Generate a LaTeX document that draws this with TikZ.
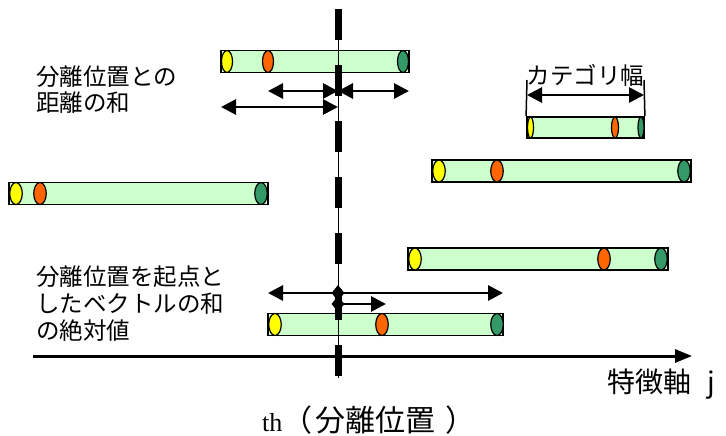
\documentclass[tikz,border=0pt]{standalone}
\usepackage{fontspec}
\setmainfont{Liberation Serif}
\newfontfamily\jp{Noto Sans CJK JP}
\usetikzlibrary{arrows.meta,shapes.geometric}
\definecolor{barfill}{HTML}{CCFFCC}
\definecolor{cyel}{HTML}{FFFF00}
\definecolor{cora}{HTML}{FF6600}
\definecolor{cgrn}{HTML}{339966}
\begin{document}
\begin{tikzpicture}[x=1pt,y=-1pt,
  bar/.style={draw=black,line width=1.8pt,fill=barfill,rectangle,inner sep=0pt,minimum height=22pt},
  dot/.style={draw=black,line width=1.2pt,ellipse,inner sep=0pt,minimum height=22pt,minimum width=12.5pt},
  ye/.style={dot,fill=cyel},
  oe/.style={dot,fill=cora},
  ge/.style={dot,fill=cgrn},
  darr/.style={line width=2.8pt,{Triangle[length=15pt,width=15pt]}-{Triangle[length=15pt,width=15pt]}},
  sarr/.style={line width=2.8pt,-{Triangle[length=15pt,width=15pt]}},
  lbl/.style={font=\jp\fontsize{23.5}{27}\selectfont,inner sep=0pt,anchor=west},
  big/.style={font=\jp\fontsize{28}{32}\selectfont,inner sep=0pt,anchor=west},
  dia/.style={diamond,fill=black,inner sep=0pt,minimum width=13pt,minimum height=16pt}
]
\useasboundingbox (0,0) rectangle (726,436);

% bars
\node[bar,minimum width=188pt] (b1) at (315,61.5) {};
\node[ye,minimum width=11pt] (b1y) at (227,61.5) {};
\node[oe,minimum width=11pt] (b1o) at (268,61.5) {};
\node[ge,minimum width=11pt] (b1g) at (403,61.5) {};

\node[bar,minimum width=117pt,minimum height=21pt] (b2) at (585.5,127.5) {};
\node[ye,minimum width=6pt,minimum height=21pt] (b2y) at (530.5,127.5) {};
\node[oe,minimum width=7pt,minimum height=21pt] (b2o) at (615,127.5) {};
\node[ge,minimum width=6pt,minimum height=21pt] (b2g) at (641,127.5) {};

\node[bar,minimum width=259pt] (b3) at (138.5,193.5) {};
\node[ye] (b3y) at (16,193.5) {};
\node[oe] (b3o) at (40,193.5) {};
\node[ge] (b3g) at (261,193.5) {};

\node[bar,minimum width=259pt] (b4) at (561.5,171) {};
\node[ye] (b4y) at (439,171) {};
\node[oe] (b4o) at (497,171) {};
\node[ge] (b4g) at (684,171) {};

\node[bar,minimum width=260pt] (b5) at (538,259) {};
\node[ye] (b5y) at (415,259) {};
\node[oe] (b5o) at (604,259) {};
\node[ge] (b5g) at (661,259) {};

\node[bar,minimum width=235pt] (b6) at (385.5,324.5) {};
\node[ye] (b6y) at (275,324.5) {};
\node[oe] (b6o) at (382,324.5) {};
\node[ge] (b6g) at (497,324.5) {};

% axis
\coordinate (ax0) at (33,356);
\coordinate (ax1) at (692,356);
\draw[line width=3pt,-{Triangle[length=17pt,width=13pt]}] (ax0) -- (ax1);

% separation line
\coordinate (th0) at (338,9);
\coordinate (th1) at (338,378);
\draw[line width=1pt] (th0) -- (th1);
\draw[line width=7pt,dash pattern=on 31pt off 25pt] (th0) -- (th1);

% distance arrows
\coordinate (m1) at (338,91);
\coordinate (l1) at (268,91);
\coordinate (r1) at (409,91);
\coordinate (m2) at (338,107);
\coordinate (l2) at (221,107);
\draw[darr] (l1) -- (m1);
\draw[darr] (m1) -- (r1);
\draw[darr] (l2) -- (m2);

% vector arrows
\coordinate (c1) at (338,293);
\coordinate (cl) at (268,293);
\coordinate (cr) at (503,293);
\coordinate (c2) at (338,304);
\coordinate (c2r) at (386,304);
\draw[sarr] (c1) -- (cl);
\draw[sarr] (c1) -- (cr);
\draw[sarr] (c2) -- (c2r);
\node[dia] (d1) at (c1) {};
\node[dia] (d2) at (c2) {};

% category width
\coordinate (k0) at (527,80);
\coordinate (k1) at (644,80);
\draw[line width=1.5pt] (k0) -- (b2.north west);
\draw[line width=1.5pt] (k1) -- (b2.north east);
\coordinate (ka) at (527,95);
\coordinate (kb) at (644,95);
\draw[darr] (ka) -- (kb);

% labels
\node[lbl] (t1) at (36,77) {分離位置との};
\node[lbl] (t2) at (36,103) {距離の和};
\node[font=\jp\fontsize{23.5}{27}\selectfont,inner sep=0pt] (t3) at (585.5,75) {カテゴリ幅};
\node[lbl] (t4) at (36,277) {分離位置を起点と};
\node[lbl] (t5) at (36,304) {したベクトルの和};
\node[lbl] (t6) at (36,331) {の絶対値};
\node[big] (t7) at (607,384) {特徴軸\hspace{16pt}j};
\node[font=\jp\fontsize{30}{34}\selectfont,inner sep=0pt,anchor=west] (t8) at (262,420) {{\rmfamily\fontsize{26}{30}\selectfont th}（\hspace{3pt}分離位置\hspace{10pt}）};
\end{tikzpicture}
\end{document}
